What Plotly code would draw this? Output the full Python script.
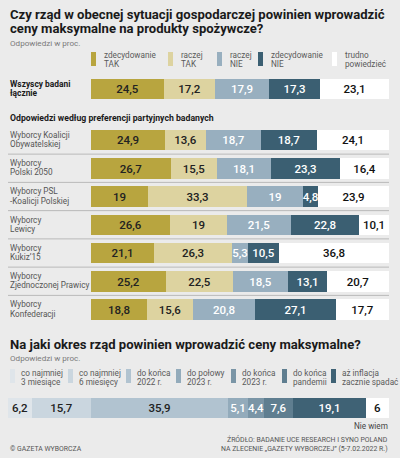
import plotly.graph_objects as go

# ---------------- data ----------------
answers = ["zdecydowanie TAK", "raczej TAK", "raczej NIE", "zdecydowanie NIE", "trudno powiedzieć"]
groups = ["Wszyscy badani łącznie", "Wyborcy Koalicji Obywatelskiej", "Wyborcy Polski 2050",
          "Wyborcy PSL -Koalicji Polskiej", "Wyborcy Lewicy", "Wyborcy Kukiz'15",
          "Wyborcy Zjednoczonej Prawicy", "Wyborcy Konfederacji"]
v_zdec_tak = [24.5, 24.9, 26.7, 19, 26.6, 21.1, 25.2, 18.8]
v_racz_tak = [17.2, 13.6, 15.5, 33.3, 19, 26.3, 22.5, 15.6]
v_racz_nie = [17.9, 18.7, 18.1, 19, 21.5, 5.3, 18.5, 20.8]
v_zdec_nie = [17.3, 18.7, 23.3, 4.8, 22.8, 10.5, 13.1, 27.1]
v_trudno = [23.1, 24.1, 16.4, 23.9, 10.1, 36.8, 20.7, 17.7]

periods = ["co najmniej 3 miesiące", "co najmniej 6 miesięcy", "do końca 2022 r.",
           "do połowy 2023 r.", "do końca 2023 r.", "do końca pandemii",
           "aż inflacja zacznie spadać", "Nie wiem"]
v_periods = [6.2, 15.7, 35.9, 5.1, 4.4, 7.6, 19.1, 6]

# ---------------- style ----------------
W, H = 400, 458
BG = "#ebebeb"
FONT = "Roboto"
top_colors = ["#b8a53f", "#ddd3a0", "#98afbf", "#3b5f72", "#ffffff"]
top_text = ["#222222", "#222222", "#ffffff", "#ffffff", "#111111"]
bot_colors = ["#dfe5ea", "#cad6df", "#b1c3d0", "#93abbb", "#7a95a6", "#5f7e90", "#3f6275", "#ffffff"]
bot_text = ["#222222", "#222222", "#222222", "#ffffff", "#ffffff", "#ffffff", "#ffffff", "#111111"]

def px(x):
    return x / W

def py(y):
    return 1 - y / H

def fmt(v):
    s = ("%g" % v)
    return s.replace(".", ",")

# row positions: party rows 0..6 at 28.25 px spacing, overall row above
ROW = 28.25
Y0 = 140.0
overall_pos = (89 - Y0) / ROW
positions = [overall_pos] + list(range(7))
y_top_px, y_bot_px = 75, 324
yrange = [(y_bot_px - Y0) / ROW, (y_top_px - Y0) / ROW]

fig = go.Figure()
series = [v_zdec_tak, v_racz_tak, v_racz_nie, v_zdec_nie, v_trudno]
for i, (name, vals) in enumerate(zip(answers, series)):
    fig.add_trace(go.Bar(
        x=vals, y=positions, orientation="h", name=name,
        marker=dict(color=top_colors[i], line=dict(width=0)),
        width=20.5 / ROW,
        text=[fmt(v) for v in vals], textposition="inside", insidetextanchor="middle",
        textangle=0,
        textfont=dict(family=FONT, size=11.5, color=top_text[i], weight=500),
        constraintext="none", cliponaxis=False,
        hoverinfo="skip", showlegend=False, xaxis="x", yaxis="y"))

for i, (name, v) in enumerate(zip(periods, v_periods)):
    fig.add_trace(go.Bar(
        x=[v], y=[0], orientation="h", name=name,
        marker=dict(color=bot_colors[i], line=dict(width=0)),
        width=1,
        text=[fmt(v)], textposition="inside", insidetextanchor="middle",
        textangle=0,
        textfont=dict(family=FONT, size=11.5, color=bot_text[i], weight=500),
        constraintext="none", cliponaxis=False,
        hoverinfo="skip", showlegend=False, xaxis="x2", yaxis="y2"))

ann = []
shapes = []

def text(x, y, s, size, color="#222", bold=False, anchor="left", weight=None):
    ann.append(dict(x=px(x), y=py(y), xref="paper", yref="paper", text=s, showarrow=False,
                    xanchor=anchor, yanchor="middle", align=anchor, borderpad=0,
                    font=dict(family=FONT, size=size, color=color,
                              weight=(700 if bold else (weight or 400)))))

# titles
text(9, 14.5, "Czy rząd w obecnej sytuacji gospodarczej powinien wprowadzić", 13.1, "#1a1a1a", bold=True)
text(9, 28.5, "ceny maksymalne na produkty spożywcze?", 13.1, "#1a1a1a", bold=True)
text(9, 43, "Odpowiedzi w proc.", 8.1, "#7a7a7a")

# top legend
leg_x = [91, 168, 217, 258, 332]
leg_lines = [("zdecydowanie", "TAK"), ("raczej", "TAK"), ("raczej", "NIE"),
             ("zdecydowanie", "NIE"), ("trudno", "powiedzieć")]
for i, (lx, (l1, l2)) in enumerate(zip(leg_x, leg_lines)):
    shapes.append(dict(type="rect", xref="paper", yref="paper", x0=px(lx), x1=px(lx + 5),
                       y0=py(66), y1=py(52), fillcolor=top_colors[i], line=dict(width=0)))
    text(lx + 12, 54.5, l1, 8.2, "#5a5a5a")
    text(lx + 12, 63.5, l2, 8.2, "#5a5a5a")

# row labels
text(9, 84.5, "Wszyscy badani", 8.4, "#1a1a1a", bold=True)
text(9, 93.5, "łącznie", 8.4, "#1a1a1a", bold=True)
text(9, 117.5, "Odpowiedzi według preferencji partyjnych badanych", 8.7, "#1a1a1a", bold=True)

row_lines = [("Wyborcy Koalicji", "Obywatelskiej"), ("Wyborcy", "Polski 2050"),
             ("Wyborcy PSL", "-Koalicji Polskiej"), ("Wyborcy", "Lewicy"),
             ("Wyborcy", "Kukiz’15"), ("Wyborcy", "Zjednoczonej Prawicy"),
             ("Wyborcy", "Konfederacji")]
for p, (l1, l2) in zip(range(7), row_lines):
    for s, shift in ((l1, 4.6), (l2, -4.6)):
        ann.append(dict(x=px(9), y=p, xref="paper", yref="y", text=s, showarrow=False,
                        xanchor="left", yanchor="middle", yshift=shift + 0.5, borderpad=0,
                        font=dict(family=FONT, size=8.2, color="#555555")))
for p in range(6):
    shapes.append(dict(type="line", xref="paper", yref="y", x0=px(8), x1=px(389),
                       y0=p + 0.5, y1=p + 0.5, line=dict(color="#b9b9b9", width=1)))

# bottom section
text(9, 344, "Na jaki okres rząd powinien wprowadzić ceny maksymalne?", 13.1, "#1a1a1a", bold=True)
text(9, 357.5, "Odpowiedzi w proc.", 8.1, "#7a7a7a")
bleg_x = [10, 68, 126, 176, 231, 282, 331]
bleg_lines = [("co najmniej", "3 miesiące"), ("co najmniej", "6 miesięcy"), ("do końca", "2022 r."),
              ("do połowy", "2023 r."), ("do końca", "2023 r."), ("do końca", "pandemii"),
              ("aż inflacja", "zacznie spadać")]
for i, (lx, (l1, l2)) in enumerate(zip(bleg_x, bleg_lines)):
    shapes.append(dict(type="rect", xref="paper", yref="paper", x0=px(lx), x1=px(lx + 5),
                       y0=py(383), y1=py(369), fillcolor=bot_colors[i], line=dict(width=0)))
    text(lx + 10, 372.5, l1, 8.2, "#5a5a5a")
    text(lx + 10, 381.5, l2, 8.2, "#5a5a5a")

text(389, 426, "Nie wiem", 8.2, "#444444", anchor="right")
text(389, 439.5, "ŹRÓDŁO: BADANIE UCE RESEARCH I SYNO POLAND", 6.9, "#555555", anchor="right")
text(389, 448.5, "NA ZLECENIE „GAZETY WYBORCZEJ” (5-7.02.2022 R.)", 6.9, "#555555", anchor="right")
text(9, 448.5, "© GAZETA WYBORCZA", 6.9, "#555555")

XMAX = 100.02
fig.update_layout(
    width=W, height=H, margin=dict(l=0, r=0, t=0, b=0),
    paper_bgcolor=BG, plot_bgcolor=BG,
    barmode="stack", bargap=0, showlegend=False,
    separators=", ",
    uniformtext=dict(minsize=11.5, mode="show"),
    font=dict(family=FONT),
    xaxis=dict(domain=[px(91), px(389)], range=[0, XMAX], visible=False, fixedrange=True),
    yaxis=dict(domain=[py(y_bot_px), py(y_top_px)], range=yrange, visible=False, fixedrange=True),
    xaxis2=dict(domain=[px(8), px(389)], range=[0, XMAX], visible=False, fixedrange=True, anchor="y2"),
    yaxis2=dict(domain=[py(418), py(398)], range=[-0.5, 0.5], visible=False, fixedrange=True, anchor="x2"),
    annotations=ann, shapes=shapes,
)

fig.write_html("out.html", config={"displayModeBar": False},
               post_script="document.body.style.margin='0';document.body.style.background='%s';" % BG)
